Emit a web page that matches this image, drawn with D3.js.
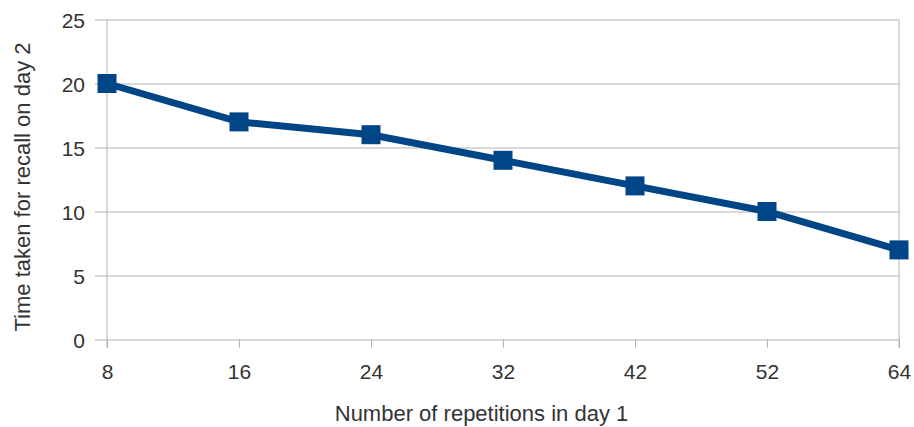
<!DOCTYPE html>
<html>
<head>
<meta charset="utf-8">
<script src="https://cdn.jsdelivr.net/npm/d3@7"></script>
<style>
  body { margin: 0; background: #fff; }
  text { font-family: "Liberation Sans", Arial, sans-serif; fill: #333; }
</style>
</head>
<body>
<div id="chart-root"></div>
<script>
const repetitions = ["8", "16", "24", "32", "42", "52", "64"]
const recallTimes = [20, 17, 16, 14, 12, 10, 7]
const yTicks = [0, 5, 10, 15, 20, 25]

const margin = {top: 19.5, right: 15, bottom: 87.5, left: 107},
  width = 914 - margin.left - margin.right,
  height = 427 - margin.top - margin.bottom

const svg = d3.select("#chart-root")
  .append("svg")
    .attr("width", 914)
    .attr("height", 427)
  .append("g")
    .attr("transform", "translate(" + margin.left + "," + margin.top + ")")

const x = d3.scalePoint()
  .domain(repetitions)
  .range([0, width])

const y = d3.scaleLinear()
  .domain([0, 25])
  .range([height, 0])

// horizontal grid + y ticks
svg.append("g")
  .attr("transform", "translate(-12,0)")
  .call(d3.axisLeft(y).tickValues(yTicks).tickSize(0).tickPadding(10))
  .call(g => g.select(".domain").remove())
  .call(g => g.selectAll(".tick line").attr("stroke", "#b3b3b3").attr("x1", 0).attr("x2", width + 12))
  .call(g => g.selectAll(".tick text").attr("font-size", 21).attr("fill", "#333").attr("dy", "0.36em"))

// vertical borders
svg.append("line")
  .attr("x1", 0).attr("x2", 0).attr("y1", 0).attr("y2", height + 8)
  .attr("stroke", "#b3b3b3")
svg.append("line")
  .attr("x1", width).attr("x2", width).attr("y1", 0).attr("y2", height + 8)
  .attr("stroke", "#b3b3b3")

// x axis
svg.append("g")
  .attr("transform", "translate(0," + height + ")")
  .call(d3.axisBottom(x).tickSize(8).tickPadding(0))
  .call(g => g.select(".domain").remove())
  .call(g => g.selectAll(".tick line").attr("stroke", "#b3b3b3"))
  .call(g => g.selectAll(".tick text").attr("font-size", 21).attr("fill", "#333")
    .attr("dy", null).attr("y", 39))

// line
const line = d3.line()
  .x((d, i) => x(repetitions[i]))
  .y(d => y(d))

svg.append("path")
  .datum(recallTimes)
  .attr("fill", "none")
  .attr("stroke", "#004586")
  .attr("stroke-width", 7)
  .attr("d", line)

svg.selectAll("rect.marker")
  .data(recallTimes)
  .enter()
  .append("rect")
  .classed("marker", true)
  .attr("x", (d, i) => x(repetitions[i]) - 9.5)
  .attr("y", d => y(d) - 9.5)
  .attr("width", 19)
  .attr("height", 19)
  .attr("fill", "#004586")

// axis titles
svg.append("text")
  .attr("x", (333 + 630) / 2 - margin.left)
  .attr("y", height + 81)
  .attr("text-anchor", "middle")
  .attr("font-size", 22)
  .text("Number of repetitions in day 1")

svg.append("text")
  .attr("transform", "translate(" + (-77) + "," + (187 - margin.top) + ") rotate(-90)")
  .attr("text-anchor", "middle")
  .attr("font-size", 22)
  .text("Time taken for recall on day 2")
</script>
</body>
</html>
